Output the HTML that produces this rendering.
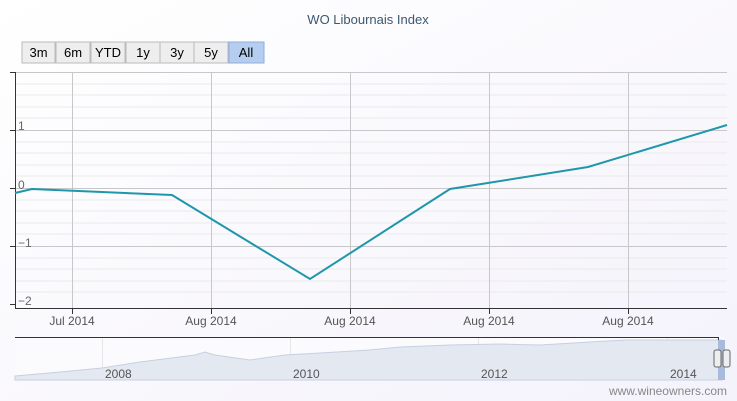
<!DOCTYPE html>
<html><head><style>
body{margin:0;background:#fff;}
svg{display:block;font-family:"Liberation Sans",sans-serif;}
</style></head><body>
<svg width="737" height="401" viewBox="0 0 737 401">
<defs><linearGradient id="bg" x1="0" y1="0" x2="1" y2="1"><stop offset="0" stop-color="#fff"/><stop offset="1" stop-color="#f4f2fb"/></linearGradient></defs>
<rect width="737" height="401" fill="url(#bg)"/>
<text x="368" y="24" text-anchor="middle" font-size="13" fill="#3e576f">WO Libournais Index</text>
<g font-size="13" fill="#000">
<rect x="22" y="42" width="33" height="21" fill="#eee" stroke="#bbb"/><text x="38.5" y="57" text-anchor="middle">3m</text>
<rect x="56" y="42" width="34" height="21" fill="#eee" stroke="#bbb"/><text x="73" y="57" text-anchor="middle">6m</text>
<rect x="91" y="42" width="34" height="21" fill="#eee" stroke="#bbb"/><text x="108" y="57" text-anchor="middle">YTD</text>
<rect x="126" y="42" width="34" height="21" fill="#eee" stroke="#bbb"/><text x="143" y="57" text-anchor="middle">1y</text>
<rect x="160" y="42" width="34" height="21" fill="#eee" stroke="#bbb"/><text x="177" y="57" text-anchor="middle">3y</text>
<rect x="194" y="42" width="34" height="21" fill="#eee" stroke="#bbb"/><text x="211" y="57" text-anchor="middle">5y</text>
<rect x="229" y="42" width="35" height="21" fill="#b5cdee" stroke="#8eaee0"/><text x="246" y="57" text-anchor="middle">All</text>
</g>
<g stroke="#eaeaea" stroke-width="1">
<line x1="15" x2="727" y1="84" y2="84"/><line x1="15" x2="727" y1="95" y2="95"/><line x1="15" x2="727" y1="107" y2="107"/><line x1="15" x2="727" y1="118" y2="118"/>
<line x1="15" x2="727" y1="142" y2="142"/><line x1="15" x2="727" y1="153" y2="153"/><line x1="15" x2="727" y1="165" y2="165"/><line x1="15" x2="727" y1="176" y2="176"/>
<line x1="15" x2="727" y1="200" y2="200"/><line x1="15" x2="727" y1="211" y2="211"/><line x1="15" x2="727" y1="223" y2="223"/><line x1="15" x2="727" y1="234" y2="234"/>
<line x1="15" x2="727" y1="258" y2="258"/><line x1="15" x2="727" y1="269" y2="269"/><line x1="15" x2="727" y1="281" y2="281"/><line x1="15" x2="727" y1="292" y2="292"/>
</g>
<g stroke="#c8c8c8" stroke-width="1">
<line x1="15" x2="727" y1="72.5" y2="72.5"/><line x1="15" x2="727" y1="130.5" y2="130.5"/><line x1="15" x2="727" y1="188.5" y2="188.5"/><line x1="15" x2="727" y1="246.5" y2="246.5"/>
<line x1="72.5" x2="72.5" y1="72" y2="308"/><line x1="211.5" x2="211.5" y1="72" y2="308"/><line x1="350.5" x2="350.5" y1="72" y2="308"/><line x1="489.5" x2="489.5" y1="72" y2="308"/><line x1="628.5" x2="628.5" y1="72" y2="308"/>
</g>
<g stroke="#333" stroke-width="1">
<line x1="15.5" x2="15.5" y1="72" y2="308"/>
<line x1="10" x2="16" y1="72.5" y2="72.5"/><line x1="10" x2="16" y1="130.5" y2="130.5"/><line x1="10" x2="16" y1="188.5" y2="188.5"/><line x1="10" x2="16" y1="246.5" y2="246.5"/><line x1="10" x2="16" y1="304.5" y2="304.5"/>
<line x1="15" x2="727" y1="308.5" y2="308.5"/>
<line x1="72.5" x2="72.5" y1="308" y2="314"/><line x1="211.5" x2="211.5" y1="308" y2="314"/><line x1="350.5" x2="350.5" y1="308" y2="314"/><line x1="489.5" x2="489.5" y1="308" y2="314"/><line x1="628.5" x2="628.5" y1="308" y2="314"/>
</g>
<g font-size="12" fill="#666">
<text x="18" y="130">1</text><text x="18" y="189">0</text><text x="18" y="247">−1</text><text x="18" y="305">−2</text>
</g>
<g font-size="12" fill="#555" text-anchor="middle">
<text x="72" y="325">Jul 2014</text><text x="211" y="325">Aug 2014</text><text x="350" y="325">Aug 2014</text><text x="489" y="325">Aug 2014</text><text x="628" y="325">Aug 2014</text>
</g>
<polyline points="15,193 32,189 172,195 310,279 450,189 588,167 727,125" fill="none" stroke="#1f97ab" stroke-width="2"/>
<rect x="15" y="337" width="708" height="43" fill="#fbfbfe"/>
<g stroke="#e6e6e6"><line x1="102.5" x2="102.5" y1="337" y2="380"/><line x1="290.5" x2="290.5" y1="337" y2="380"/><line x1="478.5" x2="478.5" y1="337" y2="380"/><line x1="667.5" x2="667.5" y1="337" y2="380"/></g>
<path d="M15,376 L60,372 L102,368 L140,362 L195,355 L205,352 L215,355 L250,360 L285,355 L320,353 L370,350 L400,347 L450,345 L500,344 L540,345 L590,342 L625,340 L680,340 L722,340 L722,380 L15,380Z" fill="#e4e8f1" stroke="#c6d0e2"/>
<line x1="15" x2="718" y1="337.5" y2="337.5" stroke="#333"/>
<line x1="718.5" x2="718.5" y1="337" y2="380" stroke="#333"/>
<rect x="718" y="340" width="7" height="40" fill="#a9bbdc"/>
<g font-size="12" fill="#555"><text x="105" y="378">2008</text><text x="293" y="378">2010</text><text x="481" y="378">2012</text><text x="670" y="378">2014</text></g>
<rect x="714" y="350" width="7" height="17" rx="2" fill="#eee" stroke="#666"/>
<rect x="723" y="350" width="7" height="17" rx="2" fill="#eee" stroke="#666"/>
<text x="727" y="395" text-anchor="end" font-size="12" fill="#888">www.wineowners.com</text>
</svg>
</body></html>
